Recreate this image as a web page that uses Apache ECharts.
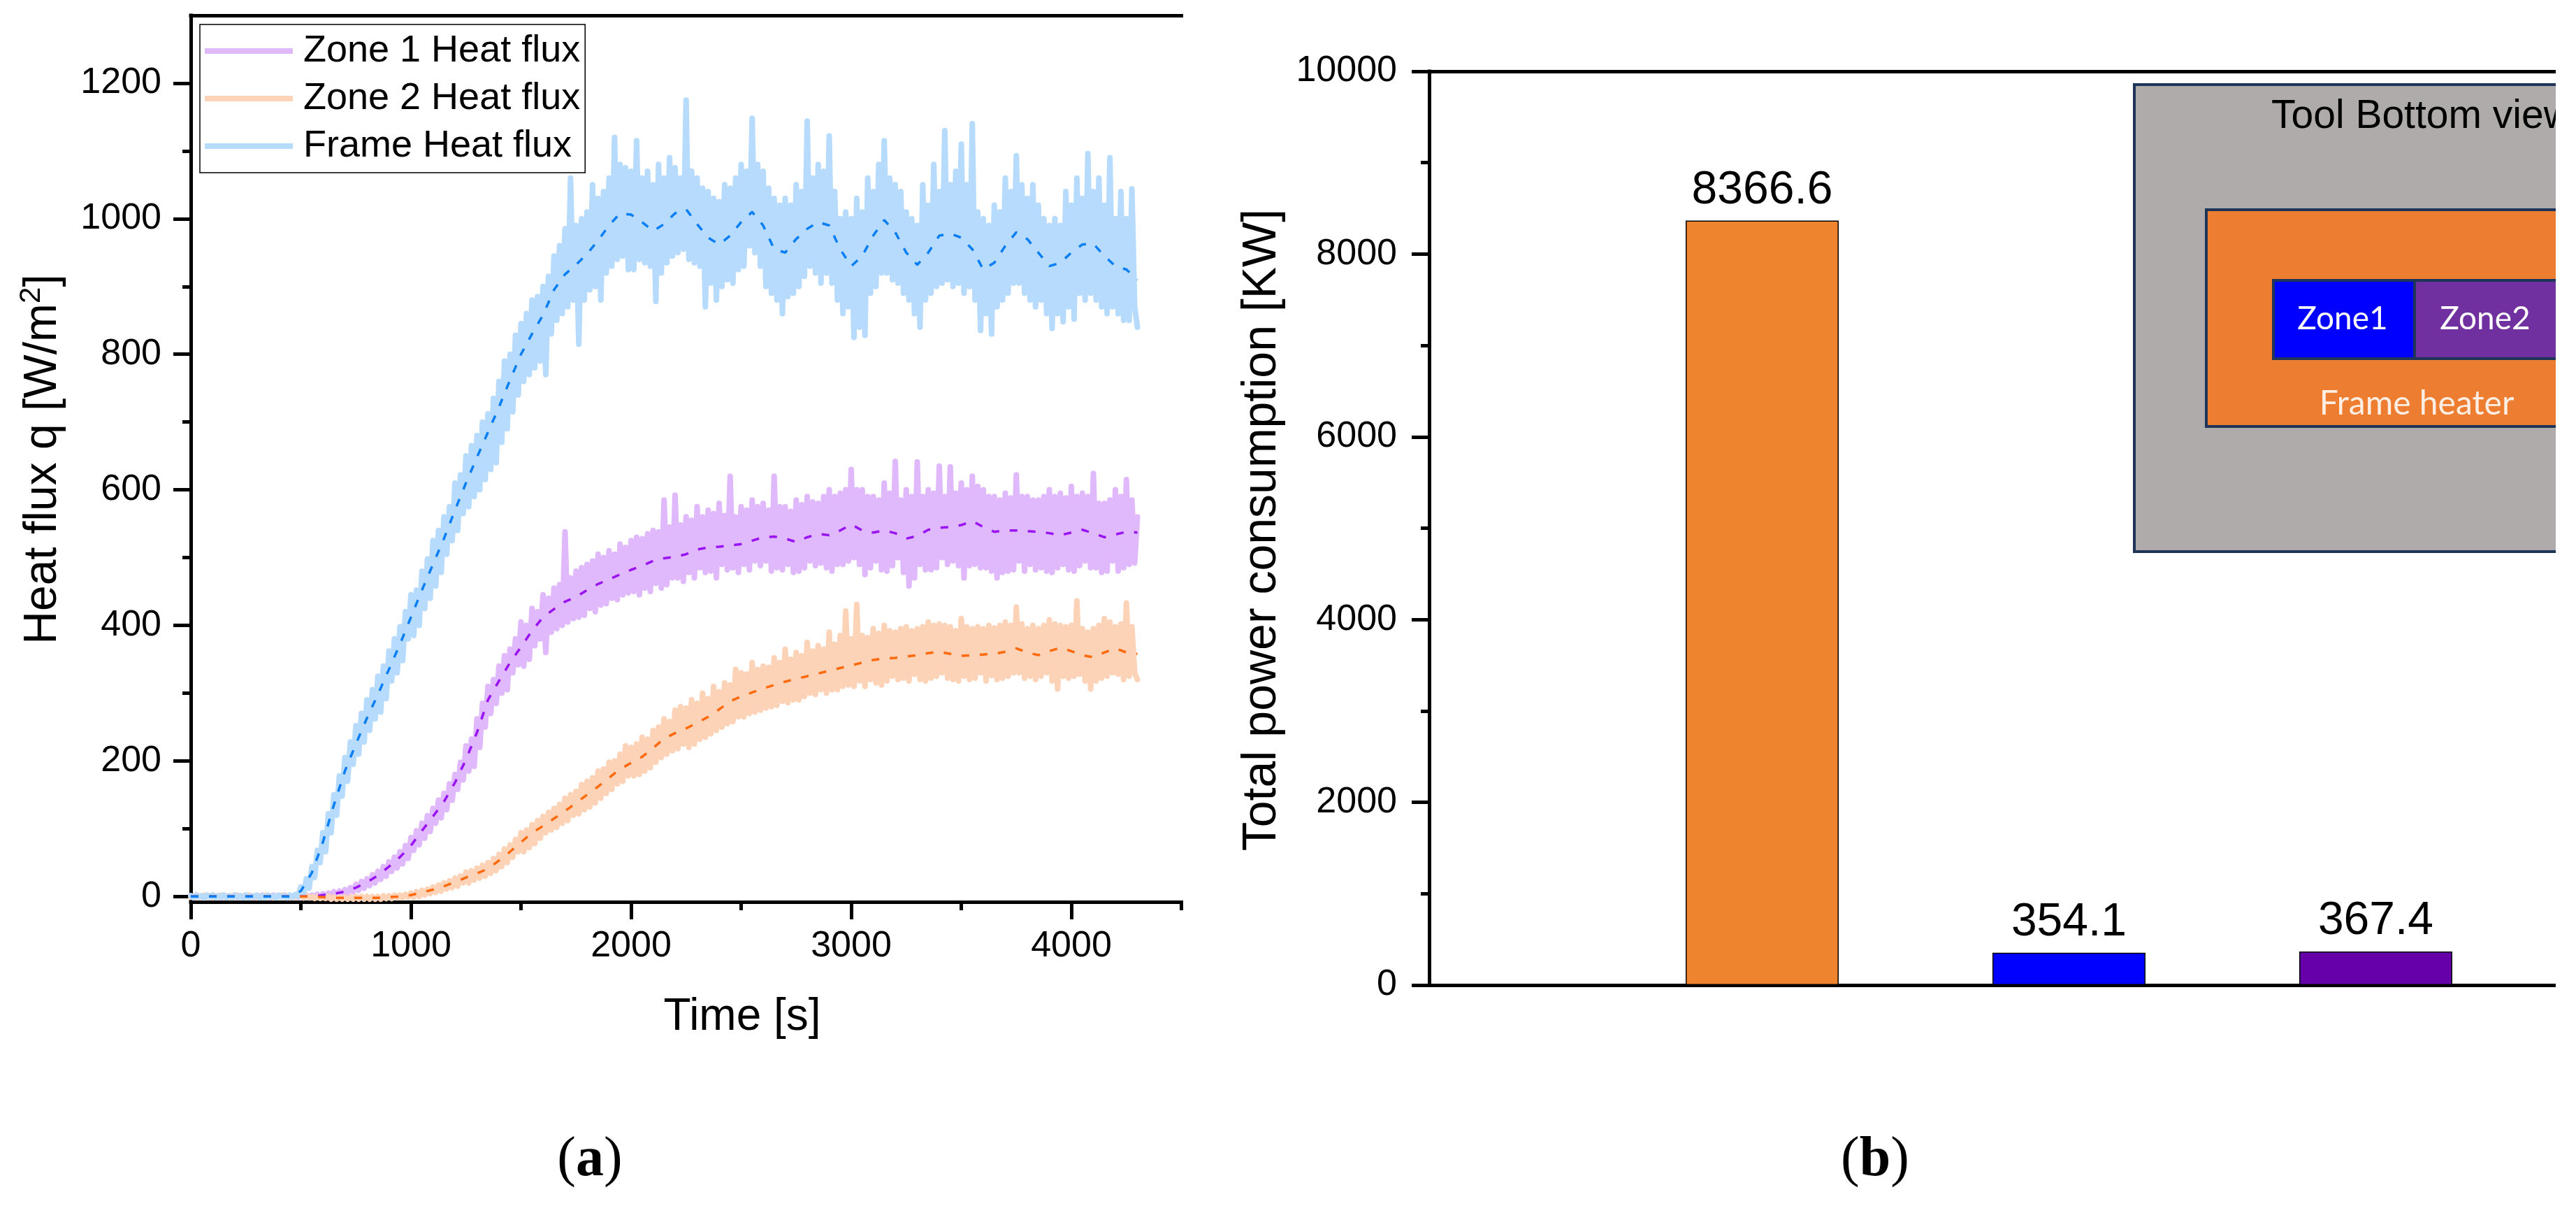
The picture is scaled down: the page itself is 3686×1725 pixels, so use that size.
<!DOCTYPE html>
<html>
<head>
<meta charset="utf-8">
<title>Heat flux and power consumption</title>
<script src="https://cdn.jsdelivr.net/npm/echarts@6.0.0/dist/echarts.min.js"></script>
<style>
    html, body { margin: 0; padding: 0; background: #fff; }
    #main { width: 3657px; height: 1725px; }
</style>
</head>
<body>
<div id="main"></div>
<script>
// raw signals, one value every 12.5 s from 0 to 4300 s (20 values per row = 250 s)
var rawStep = 12.5;
var zone1Raw = [
    1, -1, 2, -1, 1, -2, 1, -1, 2, -1, 1, -2, 2, -1, 1, -1, 2, -2, 1, -1,
    2, -1, 1, -2, 1, -1, 2, -1, 1, -2, 2, -1, 1, -1, 2, -2, 1, -1, 2, -1,
    2, -2, 2, -2, 2, -1, 3, -1, 4, 0, 5, 1, 7, 2, 8, 3, 10, 5, 13, 7,
    18, 9, 22, 12, 26, 16, 32, 20, 37, 25, 44, 30, 51, 37, 58, 42, 66, 48, 75, 56,
    87, 68, 97, 76, 108, 86, 119, 96, 130, 108, 142, 116, 152, 128, 166, 142, 180, 158, 198, 172,
    222, 185, 232, 192, 262, 220, 285, 250, 310, 270, 320, 285, 340, 300, 355, 305, 365, 330, 380, 342,
    405, 340, 400, 350, 425, 370, 420, 380, 445, 360, 440, 390, 455, 395, 460, 400, 538, 405, 470, 410,
    480, 412, 485, 415, 490, 425, 495, 420, 505, 430, 500, 432, 510, 440, 505, 438, 520, 445, 515, 448,
    525, 450, 530, 445, 528, 455, 535, 450, 540, 462, 538, 455, 585, 460, 545, 470, 592, 470, 548, 465,
    560, 478, 555, 470, 575, 485, 560, 478, 570, 480, 565, 470, 580, 490, 562, 482, 620, 485, 560, 478,
    575, 490, 570, 482, 585, 495, 575, 488, 580, 495, 570, 480, 620, 485, 575, 482, 575, 490, 568, 478,
    585, 480, 578, 485, 590, 495, 582, 488, 580, 492, 590, 485, 600, 480, 590, 490, 595, 490, 600, 495,
    630, 500, 600, 490, 600, 475, 590, 485, 590, 495, 585, 482, 610, 480, 595, 488, 642, 500, 585, 478,
    600, 458, 590, 470, 641, 490, 590, 482, 600, 482, 595, 485, 635, 500, 590, 490, 634, 495, 595, 488,
    610, 470, 600, 488, 620, 490, 605, 485, 600, 485, 590, 480, 590, 470, 585, 478, 595, 480, 588, 482,
    622, 495, 590, 480, 590, 490, 585, 482, 585, 485, 590, 480, 600, 478, 590, 485, 595, 490, 588, 482,
    605, 480, 590, 488, 595, 495, 590, 485, 624, 485, 580, 478, 580, 480, 585, 495, 600, 480, 590, 485,
    615, 490, 585, 492, 560
];
var zone2Raw = [
    -1, 1, -2, 1, -1, 2, -1, 1, -2, 1, -1, 2, -1, 1, -2, 1, -1, 2, -1, 1,
    -1, 2, -1, 1, -2, 1, -1, 2, -1, 1, -2, 1, -1, 2, -1, 1, -2, 1, -1, 2,
    1, -2, 1, -2, 0, -3, 0, -3, -1, -3, 0, -4, -1, -4, -1, -4, -1, -4, -1, -4,
    0, -4, 0, -4, 0, -4, 0, -4, 0, -4, 1, -3, 1, -3, 2, -2, 2, -2, 3, -1,
    5, -1, 7, 0, 9, 2, 11, 4, 14, 6, 17, 8, 20, 11, 23, 13, 27, 15, 30, 20,
    36, 20, 38, 24, 42, 27, 46, 30, 50, 34, 56, 38, 62, 44, 70, 50, 76, 58, 84, 66,
    94, 66, 98, 72, 106, 78, 112, 86, 118, 94, 124, 98, 130, 102, 136, 108, 145, 112, 150, 120,
    155, 122, 165, 128, 170, 132, 175, 138, 185, 145, 188, 152, 198, 158, 200, 166, 210, 170, 222, 178,
    220, 178, 225, 180, 235, 185, 232, 190, 245, 198, 250, 205, 262, 210, 258, 215, 275, 218, 280, 225,
    278, 220, 290, 225, 285, 232, 300, 235, 292, 240, 310, 245, 302, 250, 315, 255, 312, 258, 335, 265,
    330, 265, 328, 270, 345, 272, 335, 275, 340, 278, 338, 280, 352, 282, 345, 288, 365, 286, 350, 290,
    360, 290, 355, 295, 375, 300, 362, 298, 370, 305, 365, 300, 390, 305, 372, 305, 385, 310, 421, 312,
    380, 310, 431, 318, 385, 310, 382, 320, 395, 315, 388, 312, 400, 318, 392, 325, 390, 320, 395, 322,
    398, 318, 392, 328, 395, 320, 398, 318, 405, 322, 400, 325, 402, 330, 400, 322, 398, 320, 392, 318,
    410, 325, 398, 320, 395, 322, 398, 330, 395, 318, 400, 326, 396, 320, 400, 322, 405, 325, 400, 330,
    427, 330, 402, 322, 395, 325, 400, 320, 395, 325, 400, 330, 408, 318, 402, 306, 400, 325, 398, 322,
    400, 325, 436, 328, 395, 318, 390, 306, 395, 318, 400, 322, 410, 325, 405, 330, 398, 328, 402, 320,
    433, 325, 398, 330, 320
];
var frameRaw = [
    1, -2, 2, -1, 1, -2, 2, -1, 2, -2, 1, -1, 2, -2, 1, -2, 2, -1, 1, -2,
    2, -2, 1, -1, 2, -2, 1, -2, 2, -1, 1, -2, 2, -1, 1, -2, 2, -1, 3, 0,
    14, 4, 26, 12, 44, 28, 68, 50, 94, 66, 122, 94, 150, 120, 178, 148, 205, 170, 228, 195,
    252, 210, 270, 228, 290, 245, 305, 262, 325, 272, 340, 292, 362, 318, 380, 330, 398, 348, 420, 380,
    445, 385, 452, 400, 480, 425, 498, 440, 525, 458, 540, 478, 560, 505, 575, 525, 610, 540, 622, 565,
    650, 575, 665, 590, 680, 600, 700, 615, 712, 630, 735, 640, 760, 670, 790, 690, 800, 715, 828, 740,
    845, 760, 860, 770, 880, 780, 885, 790, 900, 770, 915, 830, 945, 850, 960, 860, 985, 870, 1060, 880,
    990, 815, 1000, 880, 1010, 895, 1050, 900, 1030, 880, 1040, 920, 1060, 930, 1120, 940, 1080, 945, 1075, 925,
    1070, 925, 1115, 940, 1060, 935, 1070, 930, 1050, 878, 1080, 920, 1060, 935, 1090, 945, 1075, 950, 1060, 955,
    1175, 940, 1070, 935, 1060, 930, 1045, 870, 1040, 905, 1030, 880, 1025, 900, 1050, 910, 1045, 905, 1060, 925,
    1080, 930, 1070, 960, 1148, 950, 1080, 930, 1070, 900, 1045, 890, 1030, 880, 1020, 860, 1030, 885, 1020, 890,
    1050, 900, 1040, 915, 1144, 930, 1060, 920, 1080, 905, 1070, 920, 1122, 905, 1040, 880, 1000, 860, 1010, 870,
    1000, 825, 1030, 840, 1010, 828, 1060, 890, 1040, 900, 1080, 920, 1115, 920, 1060, 910, 1050, 905, 1040, 890,
    1010, 880, 1000, 860, 990, 840, 1050, 880, 1020, 890, 1080, 900, 1040, 905, 1130, 910, 1050, 900, 1070, 905,
    1110, 890, 1050, 900, 1140, 880, 1010, 835, 1000, 860, 990, 830, 1020, 870, 1010, 880, 1060, 890, 1040, 905,
    1093, 905, 1050, 890, 1030, 880, 1050, 870, 1020, 880, 1000, 860, 990, 838, 1000, 860, 990, 848, 1040, 870,
    1020, 852, 1060, 890, 1030, 880, 1096, 890, 1040, 880, 1060, 870, 1020, 860, 1090, 870, 1000, 860, 1040, 850,
    1000, 850, 1044, 870, 840
];

// smoothed (dashed) curves, one value every 50 s
var smoothStep = 50;
var zone1Smooth = [
    0, 0, 0, 0, 0, 0, 0, 0, 0, 0,
    0, 0, 2, 4, 7, 13, 21, 31, 44, 58,
    75, 97, 118, 140, 168, 202, 242, 290, 318, 345,
    368, 392, 412, 424, 435, 442, 452, 461, 468, 475,
    482, 488, 495, 499, 501, 505, 512, 515, 516, 518,
    520, 525, 530, 531, 528, 523, 530, 535, 533, 540,
    549, 540, 537, 540, 536, 528, 532, 541, 544, 545,
    548, 554, 545, 538, 540, 540, 539, 538, 536, 533,
    537, 541, 536, 530, 534, 538, 537
];
var zone2Smooth = [
    0, 0, 0, 0, 0, 0, 0, 0, 0, 0,
    0, 0, -1, -2, -2, -2, -2, -2, -1, 0,
    2, 6, 10, 15, 21, 28, 34, 41, 53, 66,
    80, 94, 104, 115, 126, 138, 150, 162, 175, 188,
    197, 206, 219, 233, 241, 248, 256, 265, 276, 288,
    295, 301, 307, 312, 317, 321, 325, 329, 333, 337,
    341, 345, 349, 351, 352, 354, 356, 359, 361, 358,
    355, 356, 357, 358, 361, 366, 360, 356, 362, 367,
    362, 356, 353, 360, 366, 360, 358
];
var frameSmooth = [
    0, 0, 0, 0, 0, 0, 0, 0, 0, 0,
    8, 35, 80, 135, 185, 225, 263, 298, 335, 372,
    412, 452, 490, 528, 570, 610, 648, 685, 722, 762,
    800, 830, 858, 895, 918, 932, 948, 968, 990, 1008,
    1006, 995, 982, 992, 1008, 1014, 992, 972, 962, 975,
    995, 1010, 990, 955, 950, 970, 985, 995, 990, 955,
    930, 945, 975, 998, 980, 950, 932, 950, 975, 978,
    972, 955, 925, 935, 960, 980, 970, 950, 930, 935,
    950, 962, 963, 945, 930, 925, 910
];

var xTicks = [0, 1000, 2000, 3000, 4000];
var xMinorTicks = [500, 1500, 2500, 3500, 4500];
var yTicks = [0, 200, 400, 600, 800, 1000, 1200];
var yMinorTicks = [100, 300, 500, 700, 900, 1100];

var barNames = ['Frame heater', 'Zone1', 'Zone2'];
var barValues = [8366.6, 354.1, 367.4];
var powerTicks = [0, 2000, 4000, 6000, 8000, 10000];
var powerMinorTicks = [1000, 3000, 5000, 7000, 9000];

var FONT = "'Liberation Sans', Arial, sans-serif";
var SERIF = "'Liberation Serif', serif";
var barColors = ['#ee842d', '#0000ff', '#6600a8'];

var chart = echarts.init(document.getElementById('main'));

function pairs(values, step) {
    return values.map(function (v, i) {
        return [i * step, v];
    });
}

// axis that only draws a line, ticks and labels where asked
function axis(opt) {
    return {
        type: 'value',
        gridIndex: opt.grid,
        position: opt.position,
        min: opt.min,
        max: opt.max,
        axisLine: {
            show: opt.line !== false,
            onZero: false,
            lineStyle: {color: '#000', width: 5, cap: 'square'}
        },
        axisTick: {
            show: !!opt.ticks,
            customValues: opt.ticks,
            inside: false,
            length: opt.tickLength || 25,
            lineStyle: {color: '#000', width: 5}
        },
        axisLabel: {
            show: !!opt.labels,
            customValues: opt.labels,
            margin: opt.margin || 40,
            color: '#000',
            fontSize: 52,
            fontFamily: FONT,
            formatter: function (v) {
                return String(v);
            }
        },
        splitLine: {show: false}
    };
}

function rawSeries(name, values, color) {
    return {
        name: name,
        type: 'line',
        xAxisIndex: 0,
        yAxisIndex: 0,
        data: pairs(values, rawStep),
        symbol: 'none',
        lineStyle: {color: color, width: 8, cap: 'round', join: 'round'},
        itemStyle: {color: color},
        z: 2
    };
}

function smoothSeries(name, values, color) {
    return {
        name: name,
        type: 'line',
        xAxisIndex: 0,
        yAxisIndex: 0,
        data: pairs(values, smoothStep),
        symbol: 'none',
        lineStyle: {color: color, width: 3.5, type: [11, 15]},
        itemStyle: {color: color},
        z: 3
    };
}

function caption(letter, x) {
    return {
        type: 'text', x: x, y: 1660,
        style: {
            text: '{p|(}{b|' + letter + '}{p|)}', align: 'center', verticalAlign: 'middle',
            rich: {
                p: {fontSize: 80, fontFamily: SERIF, fill: '#000'},
                b: {fontSize: 80, fontFamily: SERIF, fontWeight: 'bold', fill: '#000'}
            }
        }
    };
}

var option = {
    animation: false,
    backgroundColor: '#fff',
    grid: [
        {left: 273, top: 22, width: 1417.5, height: 1268, outerBoundsMode: 'none'},
        {left: 2045, top: 102, width: 1612, height: 1307, outerBoundsMode: 'none'}
    ],
    legend: {
        left: 286,
        top: 35,
        orient: 'vertical',
        padding: [8, 7, 8, 7],
        itemGap: 8,
        itemWidth: 126,
        itemHeight: 8,
        borderColor: '#000',
        borderWidth: 1.5,
        textStyle: {fontSize: 54, fontFamily: FONT, color: '#000', lineHeight: 60, padding: [0, 0, 0, 10]},
        data: [
            {name: 'Zone 1 Heat flux', icon: 'rect'},
            {name: 'Zone 2 Heat flux', icon: 'rect'},
            {name: 'Frame Heat flux', icon: 'rect'}
        ]
    },
    xAxis: [
        axis({grid: 0, position: 'bottom', min: 0, max: 4500, ticks: xTicks, labels: xTicks, margin: 38}),
        axis({grid: 0, position: 'bottom', min: 0, max: 4500, line: false, ticks: xMinorTicks, tickLength: 12}),
        axis({grid: 0, position: 'top', min: 0, max: 4500}),
        axis({grid: 1, position: 'bottom', min: -0.0854, max: 3.5866}),
        axis({grid: 1, position: 'top', min: -0.0854, max: 3.5866})
    ],
    yAxis: [
        axis({grid: 0, position: 'left', min: -8, max: 1300, ticks: yTicks, labels: yTicks, margin: 42}),
        axis({grid: 0, position: 'left', min: -8, max: 1300, line: false, ticks: yMinorTicks, tickLength: 12}),
        axis({grid: 1, position: 'left', min: 0, max: 10000, ticks: powerTicks, labels: powerTicks, margin: 46}),
        axis({grid: 1, position: 'left', min: 0, max: 10000, line: false, ticks: powerMinorTicks, tickLength: 12})
    ],
    series: [
        rawSeries('Zone 1 Heat flux', zone1Raw, '#e0b8fc'),
        rawSeries('Zone 2 Heat flux', zone2Raw, '#fdd3b7'),
        rawSeries('Frame Heat flux', frameRaw, '#b6dbfc'),
        smoothSeries('Zone 1 trend', zone1Smooth, '#9a14f2'),
        smoothSeries('Zone 2 trend', zone2Smooth, '#ff6a0e'),
        smoothSeries('Frame trend', frameSmooth, '#0a7ef5'),
        {
            type: 'bar',
            xAxisIndex: 3,
            yAxisIndex: 2,
            barWidth: 219,
            data: barValues.map(function (v, i) {
                return {name: barNames[i], value: [i + 1, v], itemStyle: {color: barColors[i]}};
            }),
            itemStyle: {borderColor: '#000', borderWidth: 1.5},
            label: {
                show: true,
                position: 'top',
                distance: 10,
                color: '#000',
                fontSize: 66,
                fontFamily: FONT,
                formatter: function (p) {
                    return p.value[1].toFixed(1);
                }
            }
        }
    ],
    graphic: [
        {type: 'text', x: 62, y: 657, rotation: Math.PI / 2,
            style: {
                text: '{a|Heat flux q [W/m}{s|2}{a|]}', align: 'center', verticalAlign: 'middle',
                rich: {
                    a: {fontSize: 66, fontFamily: FONT, fill: '#000', lineHeight: 76},
                    s: {fontSize: 42, fontFamily: FONT, fill: '#000', verticalAlign: 'top', lineHeight: 76, padding: [0, 0, 20, 0]}
                }
            }},
        {type: 'text', x: 1062, y: 1455,
            style: {text: 'Time [s]', fontSize: 64, fontFamily: FONT, fill: '#000', align: 'center', verticalAlign: 'middle'}},
        {type: 'text', x: 1806, y: 758, rotation: Math.PI / 2,
            style: {text: 'Total power consumption [KW]', fontSize: 68, fontFamily: FONT, fill: '#000', align: 'center', verticalAlign: 'middle'}},
        caption('a', 844),
        caption('b', 2683),
        // inset sketch of the tool bottom
        {type: 'rect', z: 10, shape: {x: 3054, y: 121, width: 700, height: 668},
            style: {fill: '#afabab', stroke: '#1f3558', lineWidth: 4}},
        {type: 'rect', z: 11, shape: {x: 3157, y: 300, width: 600, height: 310},
            style: {fill: '#ed7d31', stroke: '#1f3558', lineWidth: 4}},
        {type: 'rect', z: 12, shape: {x: 3253, y: 401, width: 202, height: 112},
            style: {fill: '#0000ff', stroke: '#1f3558', lineWidth: 4}},
        {type: 'rect', z: 12, shape: {x: 3455, y: 401, width: 300, height: 112},
            style: {fill: '#7030a0', stroke: '#1f3558', lineWidth: 4}},
        {type: 'text', z: 13, x: 3250, y: 167,
            style: {text: 'Tool Bottom view', fontSize: 57, fontFamily: FONT, fill: '#000', align: 'left', verticalAlign: 'middle'}},
        {type: 'text', z: 13, x: 3352, y: 456,
            style: {text: 'Zone1', fontSize: 46, fontFamily: 'Lato, sans-serif', fill: '#fff', align: 'center', verticalAlign: 'middle'}},
        {type: 'text', z: 13, x: 3556, y: 456,
            style: {text: 'Zone2', fontSize: 46, fontFamily: 'Lato, sans-serif', fill: '#fff', align: 'center', verticalAlign: 'middle'}},
        {type: 'text', z: 13, x: 3458, y: 578,
            style: {text: 'Frame heater', fontSize: 48, fontFamily: 'Lato, sans-serif', fill: '#fdeee4', align: 'center', verticalAlign: 'middle'}}
    ]
};

chart.setOption(option);
</script>
</body>
</html>
